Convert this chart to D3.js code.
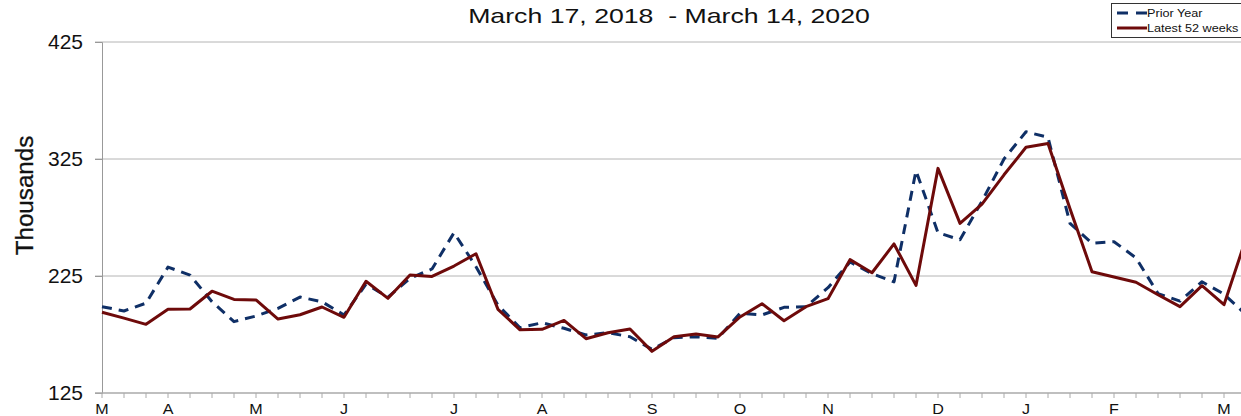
<!DOCTYPE html>
<html>
<head>
<meta charset="utf-8">
<script src="https://cdn.jsdelivr.net/npm/d3@7/dist/d3.min.js"></script>
<style>
  html, body { margin: 0; padding: 0; background: #fff; overflow: hidden; }
  svg { display: block; font-family: "Liberation Sans", Arial, sans-serif; }
</style>
</head>
<body>
<svg id="chart" width="1241" height="416"></svg>
<script>
// weekly totals, in thousands
const priorYear = [
  198.8, 195.1, 201.8, 232.6, 225.8, 203, 186, 190.8, 197.4, 207,
  203, 191.7, 218, 207, 223, 231, 262, 233, 200, 180.8,
  185, 180.3, 174.6, 176.5, 173.1, 162.3, 172.3, 173.1, 171.8, 193.1,
  191.7, 198.2, 198.8, 215, 237, 227, 220, 315, 262, 256,
  289, 325, 348.3, 343.5, 270, 253, 254.3, 240.5, 210, 203.5,
  220.1, 209.5, 192
];
const latest52 = [
  194, 189, 183.7, 196.5, 196.8, 212, 205, 204.5, 188.2, 191.9,
  198.5, 189.7, 220.5, 205.9, 225.9, 224.6, 233.5, 244, 196.5, 179,
  179.4, 187, 171.4, 176.5, 179.7, 160.6, 173, 175.4, 172.9, 190,
  201.3, 186.8, 198.8, 205.6, 239, 227.8, 252.4, 217, 317, 270,
  286.5, 311.5, 335, 338.3, 282.5, 228.7, 224.1, 219.6, 209, 198.8,
  216.7, 200.5, 257
];
const monthWeeks = [0, 3, 7, 11, 16, 20, 25, 29, 33, 38, 42, 46, 51];
const monthLabels = ["M", "A", "M", "J", "J", "A", "S", "O", "N", "D", "J", "F", "M"];
const yTicks = [125, 225, 325, 425];

(function () {
  const svg = d3.select("#chart");
  const W = 1241;
  const plotLeft = 102, plotTop = 42, plotBottom = 393;

  const x = d3.scaleLinear().domain([0, 52]).range([plotLeft, plotLeft + 52 * 22]);
  const y = d3.scaleLinear().domain([125, 425]).range([plotBottom, plotTop]);

  // gridlines
  svg.append("g")
    .selectAll("line")
    .data(yTicks.filter(d => d > 125))
    .enter().append("line")
    .attr("x1", plotLeft - 7).attr("x2", W)
    .attr("y1", d => y(d)).attr("y2", d => y(d))
    .attr("stroke", "#b4b4b4").attr("stroke-width", 1);

  // y axis
  const yAxis = svg.append("g")
    .attr("transform", `translate(${plotLeft},0)`)
    .call(d3.axisLeft(y).tickValues(yTicks).tickSize(7).tickPadding(12));
  yAxis.select(".domain").attr("stroke", "#999");
  yAxis.selectAll(".tick line").attr("stroke", "#999");
  yAxis.selectAll("text")
    .attr("font-size", 21).attr("fill", "#111")
    .style("font-family", "'Liberation Sans', Arial, sans-serif");

  // x axis line + weekly ticks
  svg.append("line")
    .attr("x1", plotLeft - 7).attr("x2", W)
    .attr("y1", plotBottom).attr("y2", plotBottom)
    .attr("stroke", "#aaa").attr("stroke-width", 1.5);

  svg.append("g")
    .selectAll("line")
    .data(d3.range(53))
    .enter().append("line")
    .attr("x1", d => x(d)).attr("x2", d => x(d))
    .attr("y1", plotBottom).attr("y2", plotBottom + 5)
    .attr("stroke", "#aaa");

  svg.append("g")
    .selectAll("text")
    .data(monthWeeks)
    .enter().append("text")
    .attr("transform", d => `translate(${x(d)},414) scale(1.15,1)`)
    .attr("text-anchor", "middle")
    .attr("font-size", 14)
    .attr("fill", "#111")
    .text((d, i) => monthLabels[i]);

  // y label
  svg.append("text")
    .attr("transform", `translate(33,${(plotTop + plotBottom) / 2 - 22}) rotate(-90) scale(1.05,1)`)
    .attr("text-anchor", "middle")
    .attr("font-size", 23)
    .attr("fill", "#111")
    .attr("stroke", "#111")
    .attr("stroke-width", 0.3)
    .text("Thousands");

  // title (stretched wide like the source image)
  svg.append("text")
    .attr("transform", "translate(669,23) scale(1.27,1)")
    .attr("text-anchor", "middle")
    .attr("font-size", 21)
    .attr("fill", "#111")
    .style("white-space", "pre")
    .text("March 17, 2018  - March 14, 2020");

  // lines
  const line = d3.line().x((d, i) => x(i)).y(d => y(d));

  svg.append("path")
    .datum(priorYear)
    .attr("d", line)
    .attr("fill", "none")
    .attr("stroke", "#0f2f66")
    .attr("stroke-width", 3)
    .attr("stroke-dasharray", "10,7")
    .attr("stroke-linejoin", "round");

  svg.append("path")
    .datum(latest52)
    .attr("d", line)
    .attr("fill", "none")
    .attr("stroke", "#6e0a0a")
    .attr("stroke-width", 3)
    .attr("stroke-linejoin", "round");

  // legend
  const lg = svg.append("g").attr("transform", "translate(1111,3)");
  lg.append("rect")
    .attr("x", 0.5).attr("y", 0.5)
    .attr("width", 140).attr("height", 34)
    .attr("fill", "#fff").attr("stroke", "#333");
  lg.append("line")
    .attr("x1", 6).attr("x2", 36).attr("y1", 10).attr("y2", 10)
    .attr("stroke", "#0f2f66").attr("stroke-width", 3)
    .attr("stroke-dasharray", "11,8");
  lg.append("text")
    .attr("transform", "translate(36,14) scale(1.15,1)")
    .attr("font-size", 11).attr("fill", "#111")
    .text("Prior Year");
  lg.append("line")
    .attr("x1", 6).attr("x2", 36).attr("y1", 25).attr("y2", 25)
    .attr("stroke", "#6e0a0a").attr("stroke-width", 3);
  lg.append("text")
    .attr("transform", "translate(36,29) scale(1.15,1)")
    .attr("font-size", 11).attr("fill", "#111")
    .text("Latest 52 weeks");
})();
</script>
</body>
</html>
